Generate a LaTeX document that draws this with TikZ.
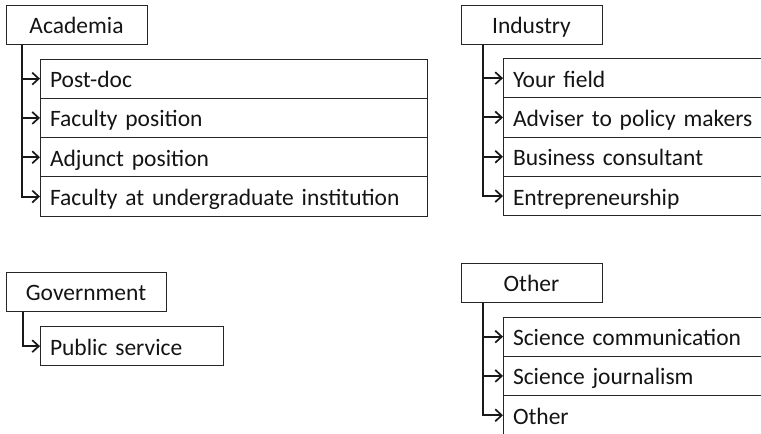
\documentclass[tikz,border=0pt]{standalone}
\usepackage{fontspec}
\setmainfont{Carlito}
\usetikzlibrary{arrows.meta}
\begin{document}
\begin{tikzpicture}[x=1pt,y=-1pt,
  every node/.style={font=\fontsize{23.5}{28}\selectfont, text=black!92, inner sep=0pt, outer sep=0pt},
  head/.style={draw=black!85, line width=1pt, minimum height=39.5pt, text height=22pt, text depth=4pt, anchor=north west, align=center},
  item/.style={draw=black!85, line width=1pt, minimum height=39.3pt, text height=22pt, text depth=4pt, anchor=north west, inner xsep=10pt, align=left, text width=#1},
  conn/.style={draw=black!90, line width=2pt, -{Straight Barb[length=6.5pt,width=12pt,line width=1.7pt]}}
]
\clip (0,0) rectangle (761,434);
% Academia
\node[head, minimum width=141pt] (acad) at (6,5) {Academia};
\node[item=367pt] (a1) at (40,59) {Post-doc};
\node[item=367pt] (a2) at (a1.south west) {Faculty position};
\node[item=367pt] (a3) at (a2.south west) {Adjunct position};
\node[item=367pt] (a4) at (a3.south west) {Faculty at undergraduate institution};
\coordinate (ac) at ([xshift=16pt]acad.south west);
\draw[conn] (ac) |- (a1.west);
\draw[conn] (ac) |- (a2.west);
\draw[conn] (ac) |- (a3.west);
\draw[conn] (ac) |- (a4.west);
% Industry
\node[head, minimum width=141pt] (ind) at (461,5) {Industry};
\node[item=260pt] (i1) at (503,58.5) {Your field};
\node[item=260pt] (i2) at (i1.south west) {Adviser to policy makers};
\node[item=260pt] (i3) at (i2.south west) {Business consultant};
\node[item=260pt] (i4) at (i3.south west) {Entrepreneurship};
\coordinate (ic) at ([xshift=22pt]ind.south west);
\draw[conn] (ic) |- (i1.west);
\draw[conn] (ic) |- (i2.west);
\draw[conn] (ic) |- (i3.west);
\draw[conn] (ic) |- (i4.west);
% Government
\node[head, minimum width=160pt] (gov) at (6,272) {Government};
\node[item=163pt] (g1) at (40,326.5) {Public service};
\coordinate (gc) at ([xshift=17pt]gov.south west);
\draw[conn] (gc) |- (g1.west);
% Other
\node[head, minimum width=141pt] (oth) at (461,263) {Other};
\node[item=260pt] (o1) at (503,317) {Science communication};
\node[item=260pt] (o2) at (o1.south west) {Science journalism};
\node[item=260pt] (o3) at (o2.south west) {Other};
\coordinate (oc) at ([xshift=22pt]oth.south west);
\draw[conn] (oc) |- (o1.west);
\draw[conn] (oc) |- (o2.west);
\draw[conn] (oc) |- (o3.west);
\end{tikzpicture}
\end{document}
